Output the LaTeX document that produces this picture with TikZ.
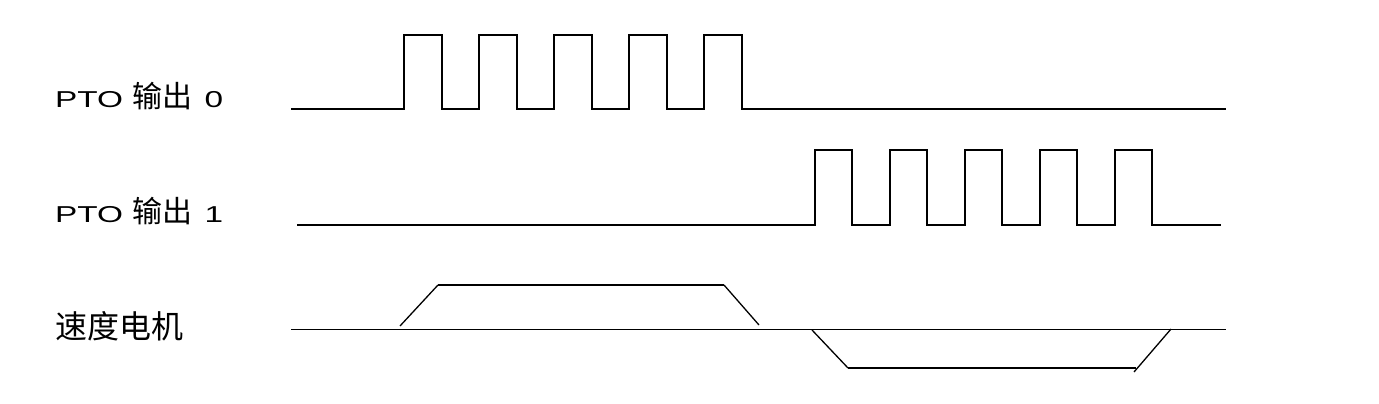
\documentclass[tikz,border=0pt]{standalone}
\usepackage{fontspec}
\setmainfont{Liberation Sans}[FakeStretch=1.45]
\newfontfamily\cjk{Noto Sans CJK SC}
\newcommand{\zh}[2][30]{{\cjk\fontsize{#1}{#1}\selectfont #2}}
\begin{document}
\begin{tikzpicture}[x=1pt,y=-1pt,line join=miter,
            wave/.style={line width=1.7pt},
            ramp/.style={line width=1.3pt},
            axis line/.style={line width=1.3pt},
            label node/.style={anchor=base west,inner sep=0pt,font=\fontsize{23}{26}\selectfont}]

        \useasboundingbox (0,0) rectangle (1379,404);

        % Define labels
        \node[label node] (out0) at (55,107) {PTO \zh{输出}\hspace{3pt} 0};
        \node[label node] (out1) at (55,222) {PTO \zh{输出}\hspace{3pt} 1};
        \node[label node] (motor) at (55,338) {\zh[32]{速度电机}};

        % Draw pulse trains
        \draw[wave] (291,109) -- (403.7,109)
            \foreach \k in {0,...,4} { -- ++(0,-74) -- ++(38,0) -- ++(0,74) -- ++(37,0) }
            -- (1226,109);
        \draw[wave] (297,225.3) -- (815.3,225.3)
            \foreach \k in {0,...,4} { -- ++(0,-75) -- ++(37,0) -- ++(0,75) -- ++(38,0) }
            -- (1221,225.3);

        % Draw motor speed
        \draw[axis line] (291,329.3) -- (1226,329.3);
        \draw[ramp] (400,326) -- (438,285);
        \draw[wave] (438,285) -- (724,285);
        \draw[ramp] (724,285) -- (759,325);
        \draw[ramp] (812,330) -- (848,368);
        \draw[wave] (848,368) -- (1136,368);
        \draw[ramp] (1134,372) -- (1171,329);

        \end{tikzpicture}
\end{document}
